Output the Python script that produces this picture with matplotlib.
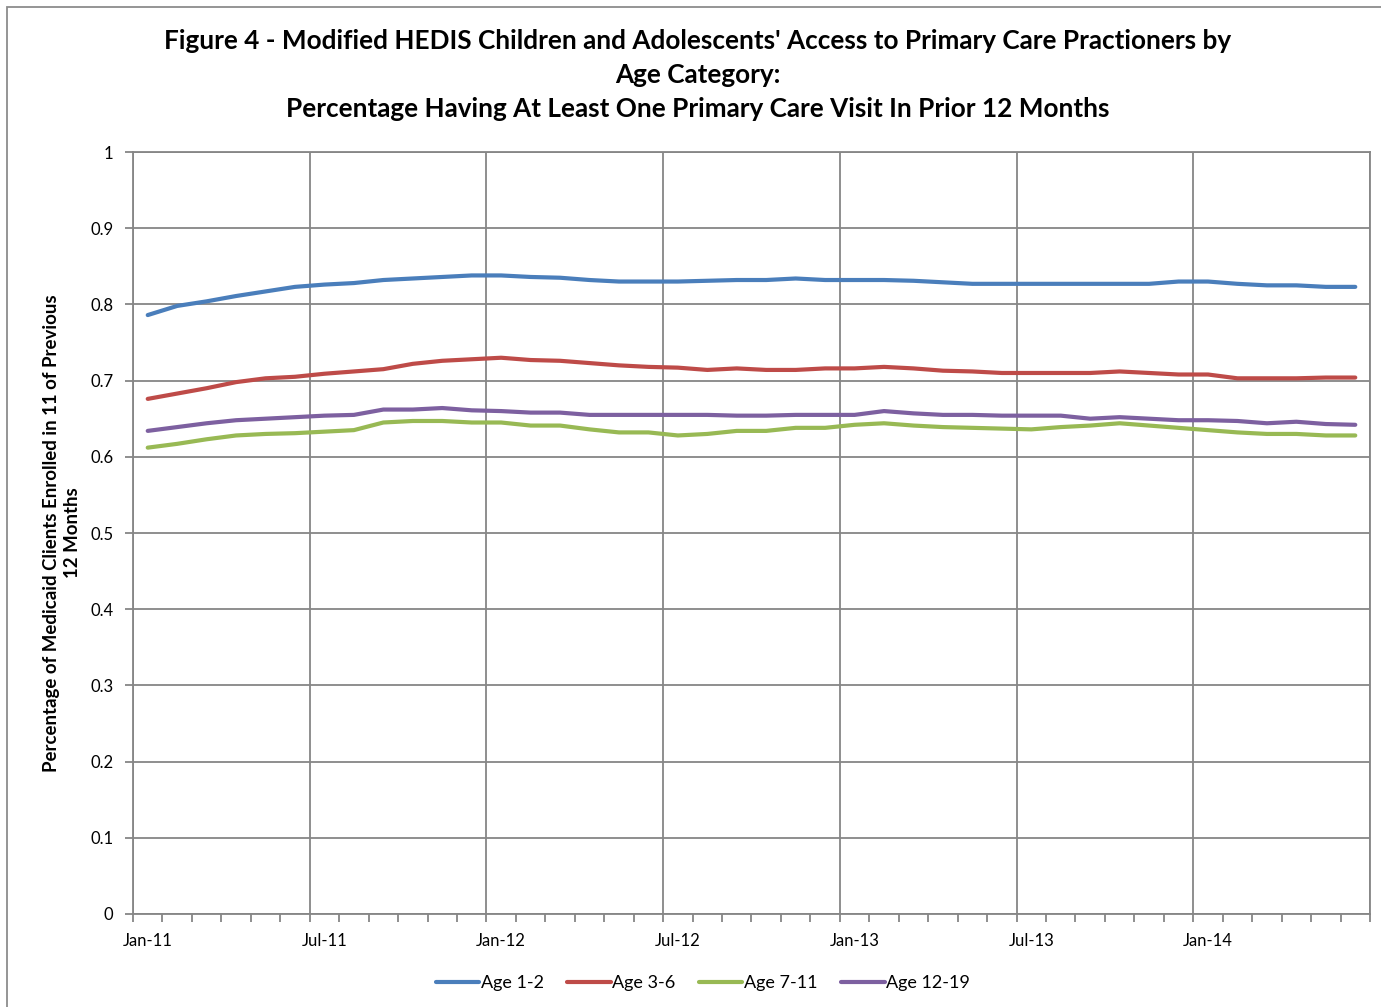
import numpy as np
import matplotlib
matplotlib.use("Agg")
from matplotlib import pyplot as plt
from matplotlib.patches import Rectangle
from matplotlib.ticker import FixedLocator

plt.rcParams['font.family'] = ['Lato', 'DejaVu Sans']

# monthly series, Jan-11 .. Jun-14
months = ['Jan-11', 'Jul-11', 'Jan-12', 'Jul-12', 'Jan-13', 'Jul-13', 'Jan-14']
y_ticks = [0, 0.1, 0.2, 0.3, 0.4, 0.5, 0.6, 0.7, 0.8, 0.9, 1]
y_labels = ['0', '0.1', '0.2', '0.3', '0.4', '0.5', '0.6', '0.7', '0.8', '0.9', '1']

age_1_2 = [0.786, 0.798, 0.804, 0.811, 0.817, 0.823, 0.826, 0.828, 0.832, 0.834,
           0.836, 0.838, 0.838, 0.836, 0.835, 0.832, 0.830, 0.830, 0.830, 0.831,
           0.832, 0.832, 0.834, 0.832, 0.832, 0.832, 0.831, 0.829, 0.827, 0.827,
           0.827, 0.827, 0.827, 0.827, 0.827, 0.830, 0.830, 0.827, 0.825, 0.825,
           0.823, 0.823]
age_3_6 = [0.676, 0.683, 0.690, 0.698, 0.703, 0.705, 0.709, 0.712, 0.715, 0.722,
           0.726, 0.728, 0.730, 0.727, 0.726, 0.723, 0.720, 0.718, 0.717, 0.714,
           0.716, 0.714, 0.714, 0.716, 0.716, 0.718, 0.716, 0.713, 0.712, 0.710,
           0.710, 0.710, 0.710, 0.712, 0.710, 0.708, 0.708, 0.703, 0.703, 0.703,
           0.704, 0.704]
age_7_11 = [0.612, 0.617, 0.623, 0.628, 0.630, 0.631, 0.633, 0.635, 0.645, 0.647,
            0.647, 0.645, 0.645, 0.641, 0.641, 0.636, 0.632, 0.632, 0.628, 0.630,
            0.634, 0.634, 0.638, 0.638, 0.642, 0.644, 0.641, 0.639, 0.638, 0.637,
            0.636, 0.639, 0.641, 0.644, 0.641, 0.638, 0.635, 0.632, 0.630, 0.630,
            0.628, 0.628]
age_12_19 = [0.634, 0.639, 0.644, 0.648, 0.650, 0.652, 0.654, 0.655, 0.662, 0.662,
             0.664, 0.661, 0.660, 0.658, 0.658, 0.655, 0.655, 0.655, 0.655, 0.655,
             0.654, 0.654, 0.655, 0.655, 0.655, 0.660, 0.657, 0.655, 0.655, 0.654,
             0.654, 0.654, 0.650, 0.652, 0.650, 0.648, 0.648, 0.647, 0.644, 0.646,
             0.643, 0.642]

series = [
    ('Age 1-2', age_1_2, '#4A7EBB'),
    ('Age 3-6', age_3_6, '#BE4B48'),
    ('Age 7-11', age_7_11, '#98B954'),
    ('Age 12-19', age_12_19, '#7D60A0'),
]

fig = plt.figure(figsize=(13.81, 10.07), dpi=100)
ax = fig.add_axes([133 / 1381, 1 - 914 / 1007, (1370 - 133) / 1381, (914 - 152) / 1007])

x = np.arange(len(age_1_2))
for name, vals, col in series:
    ax.plot(x, vals, color=col, lw=3.0, label=name, solid_capstyle='round', zorder=3)

grid_col = '#868686'
ax.set_xlim(-0.5, len(x) - 0.5)
ax.set_ylim(0, 1)
ax.set_yticks(y_ticks)
ax.set_yticklabels(y_labels)

# category boundaries: gridlines every 6 months, ticks every month
ax.xaxis.set_major_locator(FixedLocator(np.arange(-0.5, len(x), 6)))
ax.xaxis.set_minor_locator(FixedLocator(np.arange(-0.5, len(x), 1)))
ax.set_xticklabels([])
for i, m in enumerate(months):
    ax.text(i * 6, -0.025, m, ha='center', va='top', fontsize=12,
            transform=ax.get_xaxis_transform())

ax.grid(True, which='major', color=grid_col, lw=1.3)
ax.set_axisbelow(True)
ax.tick_params(axis='both', which='both', color=grid_col, width=1.3, length=6,
               labelsize=12, direction='out')
ax.tick_params(axis='y', pad=8)
for s in ax.spines.values():
    s.set_color(grid_col)
    s.set_linewidth(1.3)

ax.set_ylabel('Percentage of Medicaid Clients Enrolled in 11 of Previous\n12 Months',
              fontsize=13.4, fontweight='bold', labelpad=7, linespacing=1.25)

fig.text(0.505, 1 - 75 / 1007,
         "Figure 4 - Modified HEDIS Children and Adolescents' Access to Primary Care Practioners by\n"
         "Age Category:\n"
         "Percentage Having At Least One Primary Care Visit In Prior 12 Months",
         ha='center', va='center', fontsize=18.8, fontweight='bold', linespacing=1.5)

fig.legend(loc='center', bbox_to_anchor=(0.509, 1 - 983 / 1007), ncol=4, frameon=False,
           fontsize=13, handlelength=2.4, handletextpad=0.1, columnspacing=1.3)

# outer chart border
fig.patches.append(Rectangle((7 / 1381, -0.01), 1.1, 1 - 7 / 1007 + 0.01,
                             transform=fig.transFigure, fill=False,
                             edgecolor='#8c8c8c', lw=1.3))

fig.savefig('out.png', dpi=100)
